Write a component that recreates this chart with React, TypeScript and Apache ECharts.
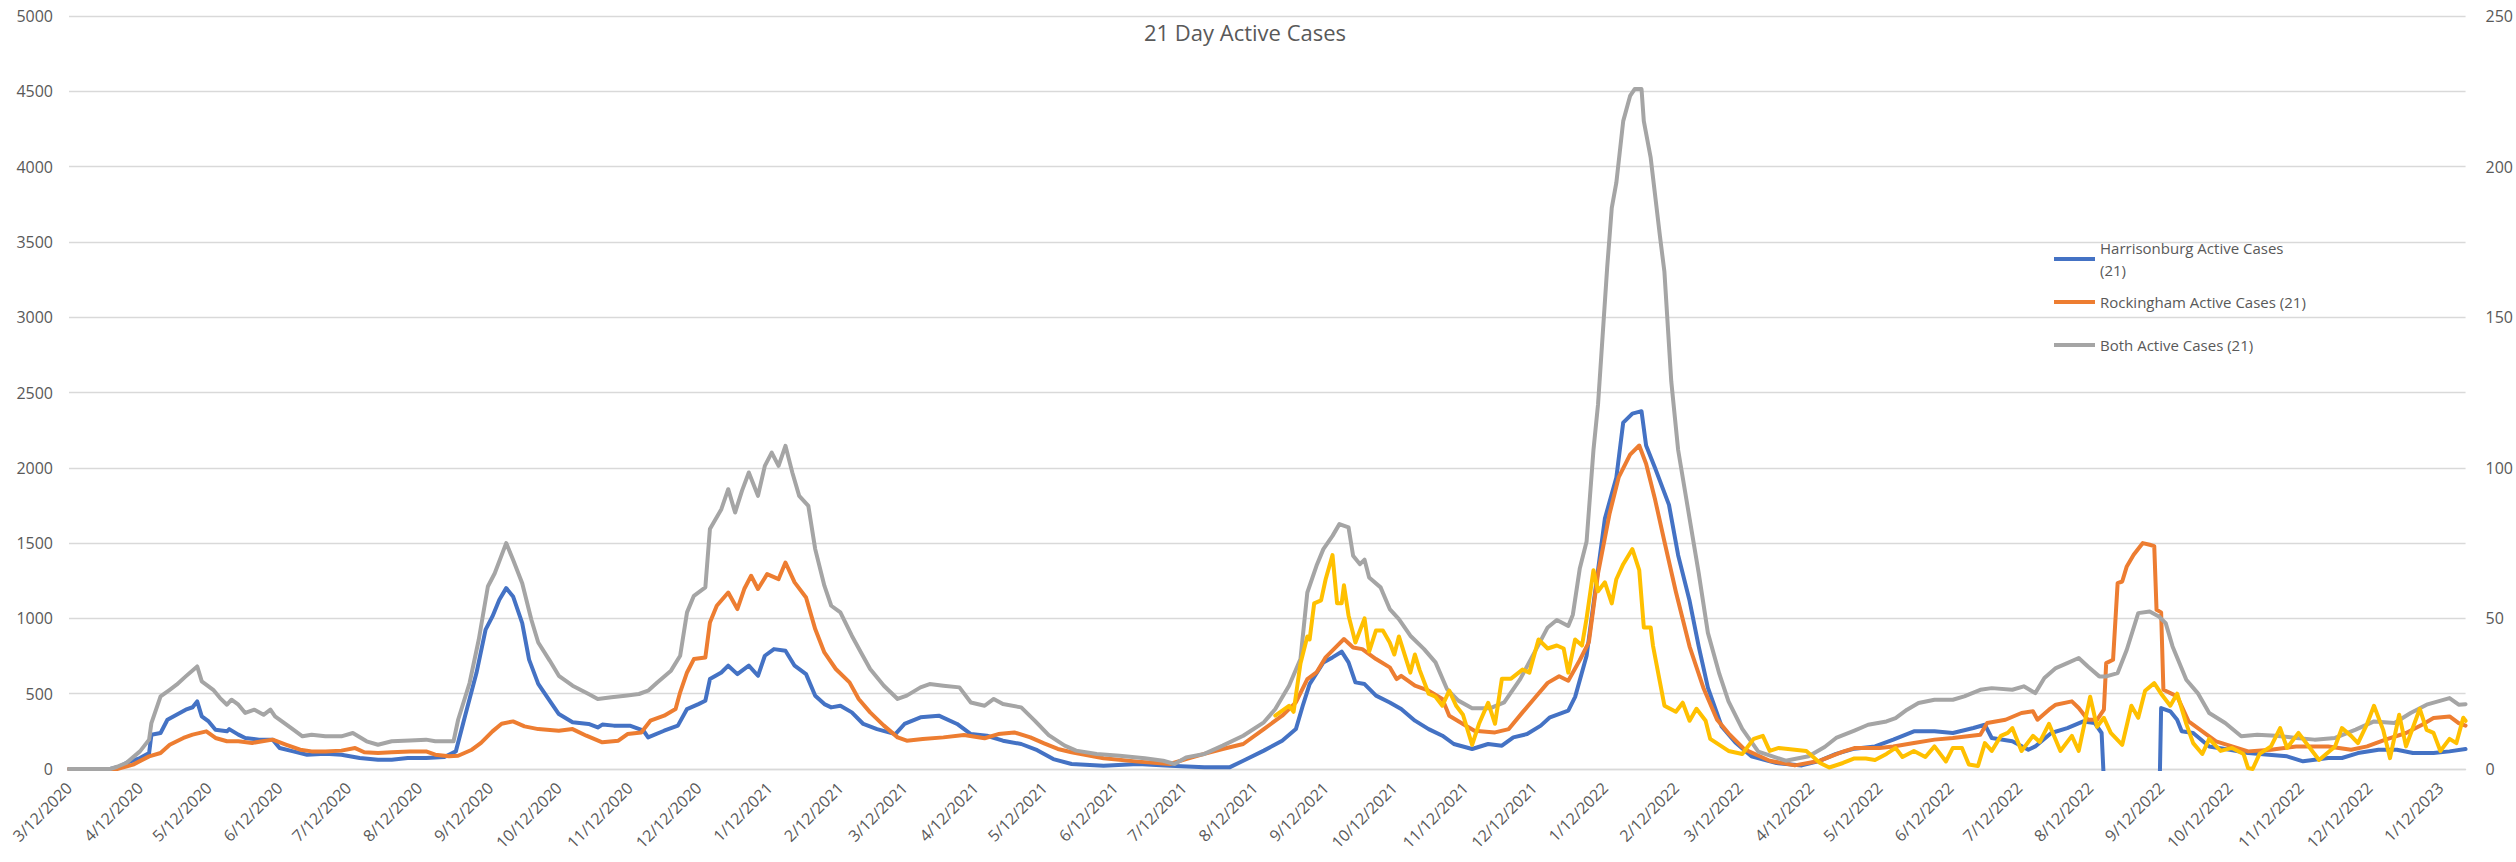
import React, { useEffect, useRef } from "react";
import * as echarts from "echarts";

// ---- Data (day offset from 3/12/2020, value) ----
const startDate = [2020, 2, 12];
const dayCount = 1048;

const harrisonburg: [number, number][] = [
  [0, 0], [18, 0], [22, 15], [25, 40], [31, 73], [35, 106], [36, 228], [40, 239], [43, 327], [47, 360],
  [51, 394], [54, 410], [56, 449], [58, 350], [61, 316], [64, 261], [69, 250], [70, 265], [74, 228], [77, 206],
  [83, 195], [89, 195], [92, 139], [98, 117], [104, 95], [112, 102], [119, 95], [127, 73], [135, 62], [141, 62],
  [148, 73], [156, 73], [164, 80], [169, 117], [173, 350], [178, 637], [182, 925], [185, 1013], [188, 1124], [191, 1201],
  [194, 1146], [198, 969], [201, 726], [205, 565], [209, 475], [214, 365], [220, 310], [227, 299], [231, 276], [233, 295],
  [238, 288], [245, 288], [251, 254], [253, 210], [260, 254], [266, 288], [270, 398], [275, 431], [278, 453], [280, 597],
  [285, 641], [288, 686], [292, 630], [297, 686], [301, 619], [304, 752], [308, 796], [313, 785], [317, 686], [322, 630],
  [326, 487], [330, 431], [333, 409], [337, 420], [342, 376], [347, 299], [353, 265], [361, 232], [365, 299], [372, 343],
  [380, 354], [388, 299], [394, 232], [401, 221], [408, 188], [416, 166], [423, 125], [430, 66], [438, 33], [452, 22],
  [467, 33], [481, 22], [496, 11], [507, 11], [513, 55], [522, 122], [530, 188], [536, 265], [539, 420], [542, 564],
  [548, 708], [552, 741], [556, 779], [559, 708], [562, 575], [566, 564], [571, 487], [577, 442], [582, 398], [588, 321],
  [594, 265], [600, 221], [605, 166], [613, 133], [620, 166], [626, 155], [631, 210], [637, 232], [643, 288], [647, 343],
  [655, 388], [658, 479], [663, 752], [667, 1208], [671, 1663], [676, 1936], [679, 2300], [683, 2360], [687, 2376], [689, 2148],
  [693, 1996], [699, 1754], [703, 1420], [708, 1117], [712, 813], [716, 540], [722, 282], [728, 176], [735, 85], [746, 39],
  [757, 24], [765, 55], [772, 100], [780, 135], [789, 150], [797, 195], [806, 250], [815, 250], [823, 239], [832, 272],
  [837, 294], [840, 206], [849, 184], [856, 128], [859, 150], [866, 239], [873, 272], [880, 316], [885, 305], [888, 239],
  [890, -400], [913, -400], [914, 405], [918, 383], [921, 327], [923, 250], [928, 239], [935, 150], [944, 128], [952, 106],
  [961, 95], [969, 84], [976, 51], [987, 73], [993, 73], [1000, 106], [1009, 128], [1017, 128], [1024, 106], [1033, 106],
  [1040, 117], [1047, 133],
];

const rockingham: [number, number][] = [
  [0, 0], [21, 0], [28, 29], [35, 84], [40, 106], [44, 161], [50, 206], [54, 228], [60, 250], [64, 206],
  [69, 184], [74, 184], [80, 173], [89, 195], [95, 161], [101, 128], [106, 117], [112, 117], [119, 122], [125, 139],
  [129, 111], [135, 106], [141, 111], [149, 117], [156, 117], [160, 95], [166, 84], [170, 88], [176, 128], [180, 173],
  [185, 250], [189, 301], [194, 316], [199, 283], [205, 265], [214, 254], [220, 265], [226, 221], [233, 177], [240, 188],
  [244, 232], [250, 243], [254, 321], [260, 354], [265, 398], [267, 509], [270, 641], [273, 730], [278, 741], [280, 973],
  [283, 1084], [288, 1172], [292, 1062], [295, 1195], [298, 1283], [301, 1195], [305, 1294], [310, 1261], [313, 1371], [317, 1239],
  [322, 1139], [326, 929], [330, 774], [335, 664], [341, 575], [345, 465], [350, 376], [356, 288], [362, 210], [366, 188],
  [373, 199], [382, 210], [391, 226], [400, 204], [406, 232], [413, 243], [420, 210], [426, 170], [432, 133], [438, 111],
  [452, 71], [467, 49], [481, 33], [488, 66], [496, 100], [504, 133], [513, 166], [522, 265], [530, 354], [536, 442],
  [541, 597], [545, 641], [549, 741], [554, 818], [557, 863], [561, 807], [565, 796], [571, 730], [577, 675], [580, 597],
  [582, 619], [588, 553], [594, 520], [600, 465], [603, 354], [609, 299], [614, 254], [623, 243], [629, 265], [635, 376],
  [641, 483], [646, 572], [651, 616], [655, 586], [660, 722], [664, 843], [668, 1299], [673, 1693], [677, 1936], [682, 2087],
  [686, 2148], [689, 2027], [693, 1784], [697, 1511], [702, 1177], [708, 813], [714, 540], [720, 328], [725, 237], [732, 130],
  [743, 55], [754, 24], [765, 55], [775, 115], [780, 139], [791, 139], [797, 150], [806, 173], [815, 195], [823, 206],
  [835, 228], [838, 305], [846, 327], [853, 372], [858, 383], [860, 327], [865, 394], [868, 427], [875, 449], [878, 405],
  [882, 327], [886, 327], [889, 394], [890, 703], [893, 725], [895, 1234], [897, 1245], [899, 1345], [902, 1422], [906, 1500],
  [909, 1489], [911, 1480], [912, 1057], [914, 1040], [915, 526], [921, 482], [926, 316], [932, 250], [938, 184], [945, 150],
  [952, 117], [962, 128], [973, 150], [987, 150], [997, 128], [1004, 150], [1012, 195], [1021, 239], [1028, 294], [1033, 338],
  [1040, 349], [1044, 305], [1047, 288],
];

const both: [number, number][] = [
  [0, 0], [18, 0], [21, 15], [25, 40], [31, 117], [35, 195], [36, 305], [40, 482], [44, 526], [47, 560],
  [51, 615], [56, 681], [58, 582], [63, 526], [66, 471], [69, 427], [71, 460], [74, 427], [77, 372], [81, 394],
  [85, 360], [88, 394], [90, 350], [95, 294], [98, 261], [102, 217], [106, 228], [112, 217], [119, 217], [124, 239],
  [130, 184], [135, 161], [141, 184], [149, 190], [156, 195], [160, 184], [168, 184], [170, 327], [175, 571], [179, 858],
  [183, 1212], [186, 1300], [191, 1500], [194, 1389], [198, 1234], [202, 991], [205, 840], [210, 720], [214, 619], [220, 553],
  [227, 498], [231, 465], [237, 476], [243, 487], [249, 498], [253, 520], [257, 575], [263, 653], [267, 752], [270, 1040],
  [273, 1150], [278, 1206], [280, 1593], [285, 1725], [288, 1858], [291, 1703], [294, 1847], [297, 1969], [301, 1814], [304, 2013],
  [307, 2101], [310, 2013], [313, 2146], [316, 1969], [319, 1814], [323, 1747], [326, 1460], [330, 1217], [333, 1084], [337, 1040],
  [342, 885], [346, 774], [350, 664], [356, 553], [362, 465], [366, 487], [372, 542], [376, 564], [382, 553], [389, 542],
  [394, 442], [400, 420], [404, 465], [408, 431], [416, 409], [422, 320], [428, 225], [435, 155], [440, 122], [449, 100],
  [459, 88], [470, 71], [478, 55], [483, 33], [488, 77], [496, 100], [504, 155], [513, 221], [522, 310], [527, 398],
  [533, 553], [538, 730], [541, 1172], [545, 1349], [548, 1460], [552, 1548], [555, 1626], [559, 1604], [561, 1416], [564, 1360],
  [566, 1390], [568, 1272], [573, 1206], [577, 1062], [581, 995], [586, 885], [592, 796], [597, 708], [602, 531], [607, 454],
  [613, 404], [621, 404], [627, 442], [634, 597], [641, 796], [646, 940], [650, 989], [655, 950], [657, 1025], [660, 1329],
  [663, 1511], [666, 2118], [668, 2421], [670, 2876], [672, 3331], [674, 3726], [676, 3893], [679, 4302], [682, 4469], [684, 4515],
  [687, 4515], [688, 4302], [691, 4059], [695, 3544], [697, 3301], [700, 2573], [703, 2118], [708, 1663], [712, 1299], [716, 904],
  [721, 631], [725, 449], [731, 267], [738, 115], [750, 55], [760, 85], [767, 146], [772, 206], [780, 255], [786, 294],
  [794, 316], [798, 338], [803, 394], [808, 438], [815, 460], [823, 460], [828, 482], [835, 526], [840, 537], [849, 526],
  [854, 549], [859, 504], [863, 604], [868, 670], [873, 703], [878, 737], [882, 681], [887, 615], [890, 615], [895, 637],
  [899, 792], [904, 1035], [909, 1046], [913, 1013], [916, 969], [919, 814], [925, 593], [930, 504], [935, 372], [942, 305],
  [949, 217], [956, 228], [964, 221], [973, 206], [981, 195], [990, 206], [999, 261], [1007, 316], [1016, 305], [1023, 372],
  [1030, 427], [1035, 449], [1040, 471], [1044, 427], [1047, 430],
];

// secondary axis series (0-250), not in legend
const bothNew: [number, number][] = [
  [527, 17.7], [533, 21], [535, 19], [538, 35], [541, 44], [542, 43], [544, 55], [547, 56], [549, 63], [552, 71],
  [554, 55], [556, 55], [557, 61], [559, 51], [562, 42], [566, 50], [568, 39], [571, 46], [574, 46], [577, 42],
  [579, 38], [581, 44], [586, 32], [588, 38], [590, 33], [594, 25], [597, 24], [600, 21], [603, 26], [606, 21],
  [609, 18], [613, 8], [616, 15], [620, 22], [623, 15], [626, 30], [630, 30], [635, 33], [638, 32], [642, 43],
  [646, 40], [650, 41], [653, 40], [655, 32], [658, 43], [661, 41], [663, 50], [666, 66], [668, 59], [671, 62],
  [674, 55], [676, 63], [679, 68], [683, 73], [686, 66], [688, 47], [691, 47], [692, 41], [695, 29], [697, 21],
  [702, 19], [705, 22], [708, 16], [711, 20], [715, 16], [717, 10], [721, 8], [725, 6], [731, 5], [736, 10],
  [740, 11], [743, 6], [747, 7], [753, 6.5], [759, 6], [765, 2], [769, 0.5], [775, 2], [780, 3.5], [785, 3.5],
  [789, 3], [794, 5], [798, 7], [801, 4], [806, 6], [811, 4], [815, 7.5], [820, 2.5], [823, 7], [827, 7],
  [830, 1.5], [834, 1], [837, 8.6], [840, 6], [844, 11], [847, 12], [849, 13.6], [853, 6], [858, 11], [861, 9],
  [865, 15], [870, 6], [875, 11], [878, 6], [883, 24], [886, 14], [889, 17], [892, 12], [897, 8], [901, 21],
  [904, 17], [907, 26], [911, 28.5], [914, 25], [918, 21], [921, 25], [925, 15], [928, 8.6], [932, 5], [935, 10],
  [940, 6], [945, 7], [950, 5], [952, 0.3], [954, 0], [957, 5], [962, 7.5], [966, 13.6], [969, 7], [974, 12],
  [980, 6], [983, 3], [990, 7.5], [993, 13.6], [997, 11], [1000, 8.6], [1004, 15], [1007, 21], [1011, 13], [1014, 3.6],
  [1018, 18], [1021, 7.5], [1027, 20], [1030, 13], [1033, 12], [1036, 6], [1040, 10], [1043, 8.6], [1046, 17], [1047, 16],
];

const seriesNames = [
  "Harrisonburg Active Cases (21)",
  "Rockingham Active Cases (21)",
  "Both Active Cases (21)",
  "Both New Cases",
];
const seriesColors = ["#4472C4", "#ED7D31", "#A5A5A5", "#FFC000"];

// daily category labels m/d/yyyy
const categories: string[] = [];
for (let i = 0; i < dayCount; i++) {
  const dt = new Date(Date.UTC(startDate[0], startDate[1], startDate[2] + i));
  categories.push(`${dt.getUTCMonth() + 1}/${dt.getUTCDate()}/${dt.getUTCFullYear()}`);
}

const FONT = "'Open Sans', 'Noto Sans', sans-serif";
const TEXT = "#595959";

export default function App() {
  const ref = useRef<HTMLDivElement>(null);
  useEffect(() => {
    document.body.style.margin = "0";
    const chart = echarts.init(ref.current!, undefined, { renderer: "svg" });
    const toData = (arr: [number, number][]) => arr.map(([d, v]) => [categories[d], v]);
    const allSeries = [harrisonburg, rockingham, both, bothNew];
    const legendTops = [226, 291, 334];
    chart.setOption({
      animation: false,
      backgroundColor: "#ffffff",
      textStyle: { fontFamily: FONT },
      title: {
        text: "21 Day Active Cases",
        left: 1240,
        textAlign: "center",
        top: 16,
        textStyle: { color: TEXT, fontSize: 22, fontWeight: "normal", fontFamily: FONT },
      },
      legend: [0, 1, 2].map((i) => ({
        data: [seriesNames[i]],
        left: 2054,
        top: legendTops[i],
        padding: 0,
        icon: "rect",
        itemWidth: 41,
        itemHeight: 4,
        selectedMode: false,
        formatter: (name: string) =>
          name === seriesNames[0] ? "Harrisonburg Active Cases\n(21)" : name,
        textStyle: {
          color: TEXT,
          fontSize: 15,
          fontFamily: FONT,
          lineHeight: 22,
          padding: i === 0 ? [22, 0, 0, 0] : 0,
        },
      })),
      grid: { left: 69, right: 45, top: 16, bottom: 93, containLabel: false },
      xAxis: {
        type: "category",
        data: categories,
        boundaryGap: false,
        axisLine: { lineStyle: { color: "#D9D9D9", width: 1.3 } },
        axisTick: { show: false },
        axisLabel: {
          interval: (_idx: number, value: string) => value.split("/")[1] === "12",
          rotate: 45,
          margin: 16,
          color: TEXT,
          fontSize: 16,
          fontFamily: FONT,
        },
        splitLine: { show: false },
      },
      yAxis: [
        {
          type: "value",
          min: 0,
          max: 5000,
          interval: 500,
          axisLine: { show: false },
          axisTick: { show: false },
          axisLabel: {
            color: TEXT,
            fontSize: 16,
            margin: 16,
            fontFamily: FONT,
            formatter: (v: number) => String(v),
          },
          splitLine: { lineStyle: { color: "#D9D9D9", width: 1.3 } },
        },
        {
          type: "value",
          min: 0,
          max: 250,
          interval: 50,
          position: "right",
          axisLine: { show: false },
          axisTick: { show: false },
          axisLabel: {
            color: TEXT,
            fontSize: 16,
            margin: 20,
            fontFamily: FONT,
            formatter: (v: number) => String(v),
          },
          splitLine: { show: false },
        },
      ],
      series: allSeries.map((arr, i) => ({
        name: seriesNames[i],
        type: "line",
        yAxisIndex: i === 3 ? 1 : 0,
        data: toData(arr),
        showSymbol: false,
        symbol: "none",
        clip: true,
        z: 2 + i,
        lineStyle: { color: seriesColors[i], width: 4, cap: "round", join: "round" },
        itemStyle: { color: seriesColors[i] },
      })),
    });
    return () => chart.dispose();
  }, []);
  return <div ref={ref} style={{ width: 2516, height: 862, position: "absolute", left: 0, top: 0 }} />;
}
